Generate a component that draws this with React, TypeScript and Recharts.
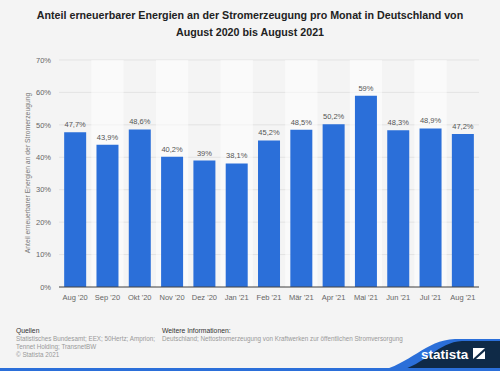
import React from 'react';
import { BarChart, Bar, XAxis, YAxis, LabelList, CartesianGrid, ReferenceArea } from 'recharts';

const categories = ["Aug '20", "Sep '20", "Okt '20", "Nov '20", "Dez '20", "Jan '21", "Feb '21", "Mär '21", "Apr '21", "Mai '21", "Jun '21", "Jul '21", "Aug '21"];
const values = [47.7, 43.9, 48.6, 40.2, 39, 38.1, 45.2, 48.5, 50.2, 59, 48.3, 48.9, 47.2];
const yTicks = [0, 10, 20, 30, 40, 50, 60, 70];

const titleLines = [
  'Anteil erneuerbarer Energien an der Stromerzeugung pro Monat in Deutschland von',
  'August 2020 bis August 2021',
];
const yAxisTitle = 'Anteil erneuerbarer Energien an der Stromerzeugung';
const sourceLines = ['Statistisches Bundesamt; EEX; 50Hertz; Amprion;', 'Tennet Holding; TransnetBW', '© Statista 2021'];
const infoLines = ['Deutschland; Nettostromerzeugung von Kraftwerken zur öffentlichen Stromversorgung'];

const data = categories.map((month, i) => ({ month, value: values[i] }));

const FONT = '"Liberation Sans", Arial, Helvetica, sans-serif';
const fmt = (v: any) => String(v).replace('.', ',') + '%';

export default function App() {
  return (
    <div style={{ position: 'absolute', left: 0, top: 0, width: 500, height: 371, background: '#f4f4f4', fontFamily: FONT, overflow: 'hidden' }}>
      <div style={{ position: 'absolute', left: 0, top: 7, width: 500, textAlign: 'center', fontWeight: 'bold', fontSize: 10.7, lineHeight: '17px', color: '#222' }}>
        {titleLines.map((t) => (<div key={t}>{t}</div>))}
      </div>
      <BarChart width={500} height={371} data={data} margin={{ top: 60, right: 21, left: 9, bottom: 54 }} barCategoryGap="16%">
        <CartesianGrid vertical={false} stroke="#e3e3e3" />
        {categories.map((c, i) => (i % 2 === 1 ? (
          <ReferenceArea key={c} x1={c} x2={c} y1={0} y2={70} fill="#ffffff" fillOpacity={0.55} stroke="none" ifOverflow="hidden" />
        ) : null))}
        <XAxis dataKey="month" axisLine={{ stroke: '#444', strokeWidth: 1 }} tickLine={false} height={30} tick={{ fill: '#666', fontSize: 7.5, fontFamily: FONT }} interval={0} />
        <YAxis domain={[0, 70]} ticks={yTicks} width={50} axisLine={false} tickLine={false} tickFormatter={(v: any) => v + '%'} tick={{ fill: '#666', fontSize: 7.5, fontFamily: FONT }} />
        <Bar dataKey="value" fill="#2b6fd9" isAnimationActive={false}>
          <LabelList dataKey="value" position="top" offset={5} formatter={fmt} style={{ fill: '#555', fontSize: 7.5, fontFamily: FONT }} />
        </Bar>
      </BarChart>
      <div style={{ position: 'absolute', left: 27, top: 173, width: 0, height: 0 }}>
        <div style={{ position: 'absolute', left: 0, top: 0, transform: 'translate(-50%, -50%) rotate(-90deg)', whiteSpace: 'nowrap', fontSize: 6.8, color: '#777' }}>{yAxisTitle}</div>
      </div>
      <div style={{ position: 'absolute', left: 16, top: 327, fontSize: 6.3, lineHeight: '8px' }}>
        <div style={{ color: '#333', fontSize: 6.8 }}>Quellen</div>
        {sourceLines.map((t) => (<div key={t} style={{ color: '#999' }}>{t}</div>))}
      </div>
      <div style={{ position: 'absolute', left: 162, top: 327, fontSize: 6.3, lineHeight: '8px' }}>
        <div style={{ color: '#333', fontSize: 6.8 }}>Weitere Informationen:</div>
        {infoLines.map((t) => (<div key={t} style={{ color: '#999' }}>{t}</div>))}
      </div>
      <svg width={500} height={371} style={{ position: 'absolute', left: 0, top: 0 }}>
        <path d="M 378 371 C 410 365, 425 340, 455 339 L 500 339 L 500 371 Z" fill="#2b6fd9" />
        <path d="M 398 371 C 425 365, 438 342, 462 341 L 500 341 L 500 371 Z" fill="#0f2a47" />
        <rect x={0} y={368} width={500} height={3} fill="#2b6fd9" />
        <text x={421} y={359} fill="#fff" fontSize={13.5} fontWeight="bold" fontFamily={FONT}>statista</text>
        <rect x={473} y={348} width={12} height={11} fill="#fff" />
        <path d="M 473 359 L 485 348 L 485 351 L 476 359 Z" fill="#0f2a47" />
      </svg>
    </div>
  );
}
